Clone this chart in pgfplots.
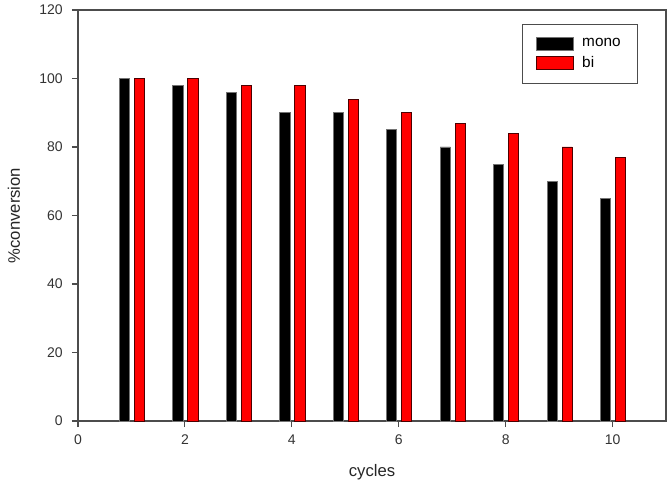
\documentclass[border=0pt]{standalone}
\usepackage{pgfplots}
\pgfplotsset{compat=1.18}
\usepackage{fontspec}
\setmainfont{Liberation Sans}
\begin{document}
\begin{tikzpicture}
\begin{axis}[
  scale only axis,
  width=441pt, height=308.25pt,
  xmin=0, xmax=11, ymin=0, ymax=120,
  xtick={0,2,4,6,8,10},
  ytick={0,20,40,60,80,100,120},
  tick align=outside, tick pos=left,
  major tick length=4.5pt,
  /pgf/number format/assume math mode=true,
  ticklabel style={font=\fontsize{10.5}{12}\selectfont, text=black!80},
  yticklabel style={xshift=-3.5pt},
  xticklabel style={yshift=-2.5pt},
  xlabel={cycles}, ylabel={\%conversion},
  label style={font=\fontsize{12.5}{14}\selectfont, text=black!85},
  xlabel style={at={(axis description cs:0.5,-0.124)}, anchor=center},
  ylabel style={at={(axis description cs:-0.109,0.5)}, anchor=center},
  axis line style={black!70, line width=0.8pt},
  every tick/.style={black!70, line width=0.8pt},
  ybar, bar width=0.19,
  legend style={at={(axis description cs:0.952,0.966)}, anchor=north east,
    draw=black!70, line width=0.8pt, font=\fontsize{11.5}{13}\selectfont,
    inner xsep=10.5pt, inner ysep=9pt, row sep=2.5pt,
    nodes={inner ysep=1.5pt},
    /tikz/every odd column/.append style={column sep=4pt},
    cells={anchor=west}},
  legend image code/.code={\draw[#1, line width=0.6pt] (0pt,-5pt) rectangle (28pt,5pt);},
]
\addplot[fill=black, draw=black!55, line width=0.6pt, bar shift=-0.13] coordinates {
(1,100) (2,98) (3,96) (4,90) (5,90) (6,85) (7,80) (8,75) (9,70) (10,65)};
\addplot[fill=red, draw=black!70!red, line width=0.6pt, bar shift=0.15] coordinates {
(1,100) (2,100) (3,98) (4,98) (5,94) (6,90) (7,87) (8,84) (9,80) (10,77)};
\legend{mono, bi}
\end{axis}
\path[use as bounding box] ([xshift=-58.5pt,yshift=-53.25pt]current axis.south west) rectangle ([xshift=2.25pt,yshift=7.5pt]current axis.north east);
\end{tikzpicture}
\end{document}
